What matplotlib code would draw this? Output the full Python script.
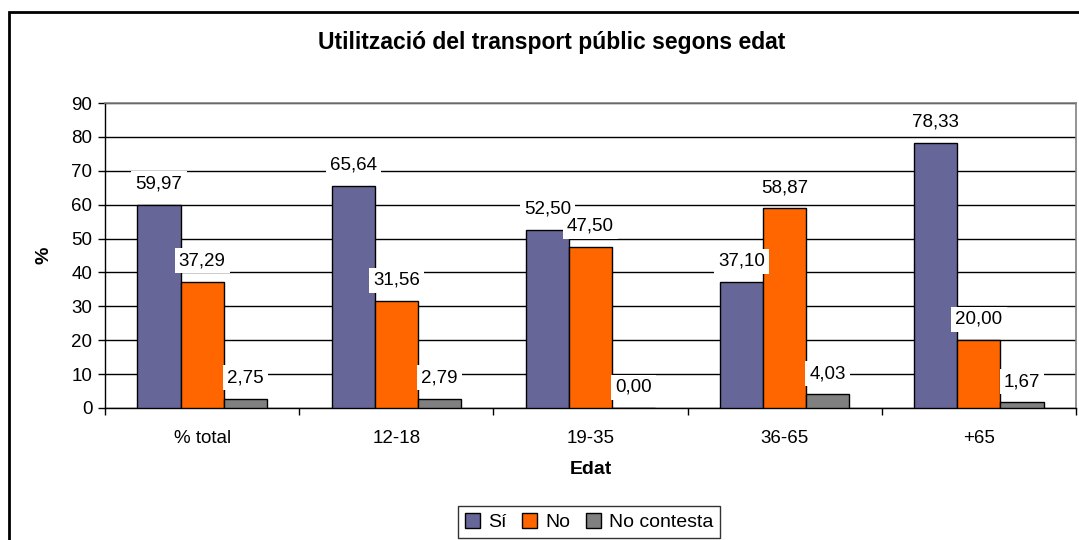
import matplotlib
matplotlib.use("Agg")
import matplotlib.pyplot as plt
import numpy as np
from matplotlib.patches import Rectangle

categories = ["% total", "12-18", "19-35", "36-65", "+65"]
si = [59.97, 65.64, 52.50, 37.10, 78.33]
no = [37.29, 31.56, 47.50, 58.87, 20.00]
no_contesta = [2.75, 2.79, 0.00, 4.03, 1.67]
series_names = ["Sí", "No", "No contesta"]
colors = ["#666699", "#FF6600", "#808080"]
yticks = list(range(0, 91, 10))

plt.rcParams['font.family'] = ['Liberation Sans', 'DejaVu Sans']

W, H = 1079, 540
fig = plt.figure(figsize=(W / 100, H / 100), dpi=100)
ax = fig.add_axes([105 / W, 1 - 408 / H, (1076 - 105) / W, (408 - 103) / H])

FS = 13.5

x = np.arange(len(categories))
w = 0.222
series = [si, no, no_contesta]
for i, (vals, c, name) in enumerate(zip(series, colors, series_names)):
    pos = x + (i - 1) * w
    ax.bar(pos, vals, width=w, color=c, edgecolor='black', linewidth=1.0,
           label=name, zorder=3)

# data labels
for i, vals in enumerate(series):
    pos = x + (i - 1) * w
    for p, v in zip(pos, vals):
        ax.annotate(f"{v:.2f}".replace('.', ','), xy=(p, v), xytext=(0, 15),
                    textcoords='offset points', ha='center', va='center',
                    fontsize=FS, zorder=5,
                    bbox=dict(facecolor='white', edgecolor='none', pad=3.0))

ax.set_ylim(0, 90)
ax.set_xlim(-0.5, len(categories) - 0.5)
ax.set_yticks(yticks)
ax.tick_params(axis='y', labelsize=FS, length=5, width=1, direction='out', pad=4)
ax.yaxis.grid(True, color='black', linewidth=1.0, zorder=0)
ax.set_axisbelow(True)

ax.set_xticks(np.arange(-0.5, len(categories), 1.0))
ax.set_xticklabels([])
ax.tick_params(axis='x', which='major', length=5, width=1, direction='out')
ax.set_xticks(x, minor=True)
ax.set_xticklabels(categories, minor=True)
ax.tick_params(axis='x', which='minor', length=0, labelsize=FS, pad=16)

for s in ['top', 'right']:
    ax.spines[s].set_color('#808080')
    ax.spines[s].set_linewidth(1.2)
for s in ['left', 'bottom']:
    ax.spines[s].set_color('black')
    ax.spines[s].set_linewidth(1.0)

ax.set_ylabel('%', fontsize=14, fontweight='bold', labelpad=14)
ax.set_xlabel('Edat', fontsize=14, fontweight='bold', labelpad=10)

fig.text(552 / W, 1 - 43 / H, 'Utilització del transport públic segons edat',
         ha='center', va='center', fontsize=16.5, fontweight='bold')

leg = fig.legend(loc='upper center', bbox_to_anchor=(589 / W, 1 - 506 / H), ncol=3,
                 fontsize=14, frameon=True, fancybox=False, edgecolor='black',
                 handlelength=0.8, handleheight=0.8, handletextpad=0.4,
                 columnspacing=0.8, borderpad=0.35, borderaxespad=0)
leg.get_frame().set_linewidth(1.0)

fig.patches.append(Rectangle((8.5 / W, -0.1), 1.2, 1 - 12 / H + 0.1,
                             transform=fig.transFigure, fill=False,
                             edgecolor='black', linewidth=2, zorder=0))

fig.savefig('out.png', dpi=100)
